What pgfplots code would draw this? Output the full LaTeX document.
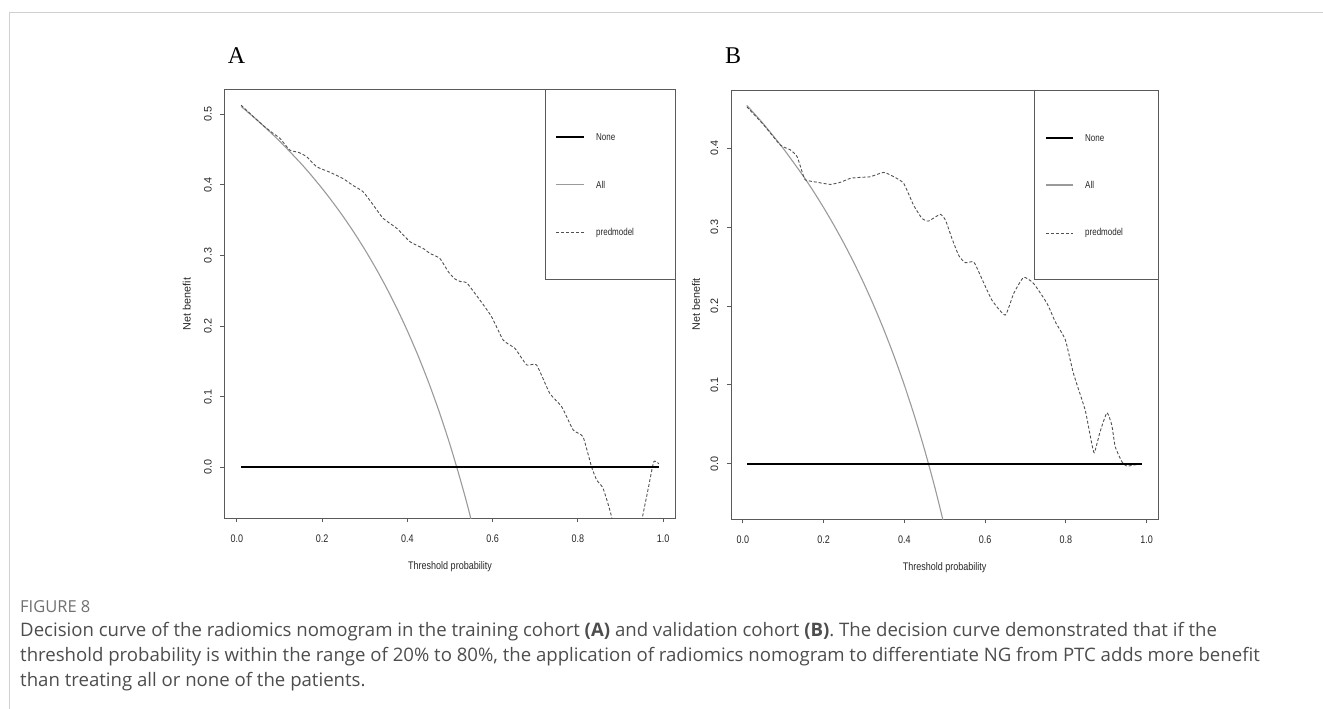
\documentclass[border=0pt]{standalone}
\usepackage{pgfplots}
\usepackage{pgfplotstable}
\pgfplotsset{compat=1.18}
\usepackage{fontspec}
\setmainfont{Liberation Sans}
\newfontfamily\capfont{Open Sans}
\newfontfamily\rnarrow[FakeStretch=0.82]{Liberation Sans}
\newfontfamily\rleg[FakeStretch=0.8]{Liberation Sans}
\newfontfamily\serifA{Liberation Serif}
\definecolor{boxgray}{HTML}{5A5A5A}
\definecolor{allgray}{HTML}{9A9A9A}
\definecolor{modelgray}{HTML}{505050}
\definecolor{capgray}{HTML}{4D4D4D}
\definecolor{figgray}{HTML}{707070}
\definecolor{framegray}{HTML}{D0D0D0}

\pgfplotstableread{
x y
0.01 0.5128
0.04 0.496
0.062 0.484
0.085 0.473
0.101 0.466
0.124 0.4494
0.145 0.446
0.1635 0.440
0.187 0.4258
0.218 0.418
0.249 0.409
0.273 0.399
0.296 0.3904
0.320 0.3715
0.343 0.3527
0.375 0.3385
0.406 0.3196
0.437 0.310
0.4527 0.303
0.476 0.296
0.496 0.277
0.511 0.267
0.525 0.263
0.539 0.2615
0.570 0.237
0.5975 0.2133
0.625 0.180
0.652 0.1686
0.680 0.145
0.703 0.145
0.734 0.1048
0.762 0.0858
0.789 0.0528
0.812 0.0433
0.832 0.0008
0.844 -0.018
0.859 -0.0297
0.879 -0.070
0.90 -0.14
0.93 -0.14
0.951 -0.072
0.965 -0.03
0.978 0.008
0.99 0.005
}\modelA

\pgfplotstableread{
x y
0.01 0.5111
0.05 0.4905
0.10 0.4622
0.15 0.4306
0.175 0.4133
0.20 0.395
0.225 0.3755
0.25 0.3547
0.275 0.3324
0.30 0.3086
0.325 0.283
0.35 0.2554
0.375 0.2256
0.40 0.1933
0.425 0.1583
0.45 0.120
0.475 0.0781
0.50 0.032
0.525 -0.019
0.55 -0.0756
0.60 -0.21
}\allA

\pgfplotstableread{
x y
0.01 0.4528
0.052 0.4296
0.093 0.4042
0.118 0.398
0.1346 0.3894
0.147 0.370
0.155 0.360
0.184 0.357
0.217 0.3543
0.242 0.357
0.2666 0.362
0.291 0.3632
0.316 0.364
0.349 0.3695
0.374 0.364
0.3985 0.3556
0.423 0.328
0.444 0.311
0.460 0.3078
0.489 0.3163
0.502 0.309
0.518 0.2858
0.535 0.2640
0.551 0.255
0.572 0.256
0.588 0.2393
0.617 0.2076
0.650 0.1886
0.671 0.216
0.6955 0.2364
0.720 0.2288
0.7535 0.2034
0.774 0.180
0.799 0.157
0.819 0.1146
0.848 0.0681
0.861 0.0343
0.8705 0.014
0.885 0.0406
0.902 0.0647
0.914 0.049
0.9225 0.0216
0.939 0.0025
0.951 -0.003
0.968 -0.0017
0.99 0.0
}\modelB

\pgfplotstableread{
x y
0.01 0.4545
0.05 0.4316
0.10 0.40
0.15 0.3647
0.175 0.3455
0.20 0.325
0.225 0.3032
0.25 0.28
0.275 0.2552
0.30 0.2286
0.325 0.20
0.35 0.1692
0.375 0.136
0.40 0.10
0.425 0.0609
0.45 0.0182
0.475 -0.0286
0.50 -0.08
}\allB

\pgfplotstableread{
x y
0.01 0
0.99 0
}\noneline

\pgfplotsset{
  rstyle/.style={
    scale only axis,
    axis line style={boxgray, line width=1pt},
    xmin=-0.0292, xmax=1.0292,
    tick align=outside, tick pos=left,
    major tick length=4.3pt,
    every tick/.style={boxgray, line width=0.8pt},
    xtick={0,0.2,0.4,0.6,0.8,1.0},
    xticklabels={0.0,0.2,0.4,0.6,0.8,1.0},
    xticklabel style={font=\rnarrow\fontsize{11}{12}\selectfont, text=black!85, anchor=north, inner sep=0pt},
    xticklabel shift=12.8pt,
    yticklabel style={font=\fontsize{10.8}{12}\selectfont, text=black!85, rotate=90, anchor=south, inner sep=0pt},
    yticklabel shift=8.2pt,
    xlabel={Threshold probability},
    xlabel style={font=\rnarrow\fontsize{11}{12}\selectfont, text=black!85, at={(axis description cs:0.5,-0.1138)}, anchor=center},
    ylabel={Net benefit},
    ylabel style={font=\fontsize{10.8}{12}\selectfont, text=black!85, anchor=center},
    clip=true,
  },
  noneplot/.style={black, line width=1.7pt},
  allplot/.style={allgray, line width=1.1pt, smooth, tension=0.4},
  modelplot/.style={modelgray, line width=0.9pt, dash pattern=on 3pt off 2pt, smooth, tension=0.3},
}

\begin{document}
\begin{tikzpicture}
\path[use as bounding box] (0,0) rectangle (1323pt,-709pt);
\draw[framegray, line width=1pt] (1323pt,-12.3pt) -- (9.3pt,-12.3pt) -- (9.3pt,-709pt);

% Panel A
\begin{axis}[rstyle, at={(224.4pt,-518pt)}, anchor=south west,
  width=451.2pt, height=428pt,
  ymin=-0.0718, ymax=0.5344,
  ytick={0,0.1,0.2,0.3,0.4,0.5},
  yticklabels={0.0,0.1,0.2,0.3,0.4,0.5},
  ylabel style={at={(axis description cs:-0.0833,0.5)}},
]
\addplot[allplot] table[x=x,y=y] {\allA};
\addplot[modelplot] table[x=x,y=y] {\modelA};
\addplot[noneplot] table[x=x,y=y] {\noneline};
\end{axis}

% Panel B
\begin{axis}[rstyle, at={(731pt,-519pt)}, anchor=south west,
  width=427.3pt, height=429pt,
  ymin=-0.0701, ymax=0.474,
  ytick={0,0.1,0.2,0.3,0.4},
  yticklabels={0.0,0.1,0.2,0.3,0.4},
  ylabel style={at={(axis description cs:-0.082,0.5)}},
]
\addplot[allplot] table[x=x,y=y] {\allB};
\addplot[modelplot] table[x=x,y=y] {\modelB};
\addplot[noneplot] table[x=x,y=y] {\noneline};
\end{axis}

% Legend A
\draw[boxgray, line width=1pt] (545.4pt,-90pt) -- (545.4pt,-279pt) -- (675.6pt,-279pt);
\draw[black, line width=1.7pt] (556pt,-137.3pt) -- (584pt,-137.3pt);
\draw[allgray, line width=1.1pt] (556pt,-184.5pt) -- (584pt,-184.5pt);
\draw[modelgray, line width=0.9pt, dash pattern=on 3pt off 2pt] (556pt,-232.5pt) -- (584pt,-232.5pt);
\begin{scope}[every node/.style={anchor=west, inner sep=0pt, font=\rleg\fontsize{10}{11}\selectfont, text=black!85}]
\node at (596pt,-137.3pt) {None};
\node at (596pt,-184.5pt) {All};
\node at (596pt,-232.5pt) {predmodel};
\end{scope}

% Legend B
\draw[boxgray, line width=1pt] (1034pt,-90pt) -- (1034pt,-279pt) -- (1158.3pt,-279pt);
\draw[black, line width=1.7pt] (1046pt,-138.3pt) -- (1073.3pt,-138.3pt);
\draw[allgray, line width=1.1pt] (1046pt,-185pt) -- (1073.3pt,-185pt);
\draw[modelgray, line width=0.9pt, dash pattern=on 3pt off 2pt] (1046pt,-233pt) -- (1073.3pt,-233pt);
\begin{scope}[every node/.style={anchor=west, inner sep=0pt, font=\rleg\fontsize{10}{11}\selectfont, text=black!85}]
\node at (1085pt,-138.3pt) {None};
\node at (1085pt,-185pt) {All};
\node at (1085pt,-233pt) {predmodel};
\end{scope}

% Panel letters
\node[anchor=base, inner sep=0pt, font=\serifA\fontsize{24}{24}\selectfont] at (236.6pt,-64pt) {A};
\node[anchor=base, inner sep=0pt, font=\serifA\fontsize{24}{24}\selectfont] at (733pt,-64pt) {B};

% Caption
\begin{scope}[every node/.style={anchor=base west, inner sep=0pt}]
\node[font=\capfont\fontsize{16.5}{17}\selectfont, text=figgray] at (20pt,-612pt) {FIGURE 8};
\node[font=\capfont\fontsize{18.6}{20}\selectfont, text=capgray] at (20pt,-636pt) {Decision curve of the radiomics nomogram in the training cohort \textbf{(A)} and validation cohort \textbf{(B)}. The decision curve demonstrated that if the};
\node[font=\capfont\fontsize{18.6}{20}\selectfont, text=capgray] at (20pt,-661pt) {threshold probability is within the range of 20\% to 80\%, the application of radiomics nomogram to differentiate NG from PTC adds more benefit};
\node[font=\capfont\fontsize{18.6}{20}\selectfont, text=capgray] at (20pt,-686pt) {than treating all or none of the patients.};
\end{scope}
\end{tikzpicture}
\end{document}
